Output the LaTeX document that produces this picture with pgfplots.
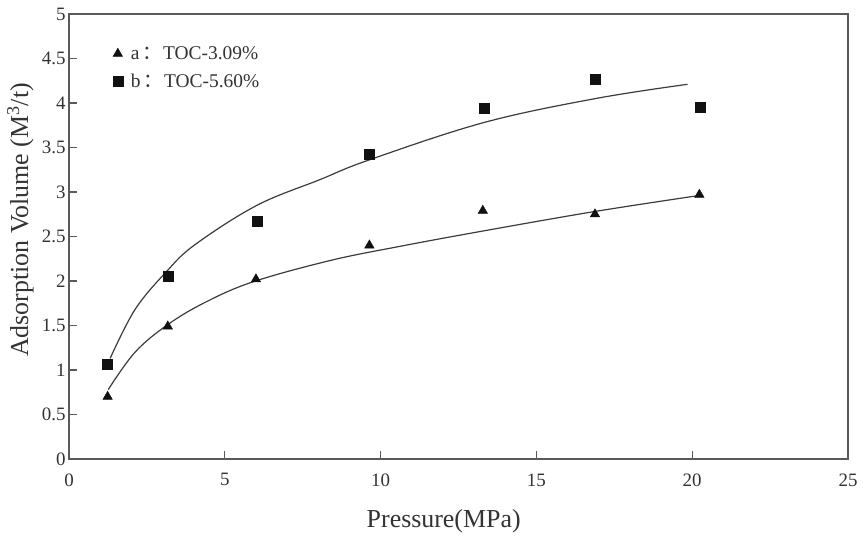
\documentclass[border=0pt]{standalone}
\usepackage{fontspec}
\setmainfont{Liberation Serif}
\newfontfamily\cjk{Noto Sans CJK SC}
\usepackage{pgfplots}
\pgfplotsset{compat=1.18}
\usetikzlibrary{calc}
\definecolor{axgray}{HTML}{5A5A5A}
\definecolor{txtgray}{HTML}{333333}
\definecolor{curvegray}{HTML}{3C3C3C}
\definecolor{markblack}{HTML}{111111}
\begin{document}
\begin{tikzpicture}
\begin{axis}[
  scale only axis,
  width=779bp, height=445bp,
  xmin=0, xmax=25, ymin=0, ymax=5,
  xtick={0,5,10,15,20,25},
  ytick={0,0.5,1,1.5,2,2.5,3,3.5,4,4.5,5},
  xtick pos=bottom, ytick pos=left,
  tick align=inside,
  major tick length=8bp,
  axis line style={axgray, line width=1.3bp},
  every tick/.style={axgray, line width=1.1bp},
  tick label style={font=\fontsize{19}{21}\selectfont, text=txtgray},
  xticklabel style={yshift=-11bp},
  /pgf/number format/assume math mode=true,
  xlabel={Pressure(MPa)},
  ylabel={Adsorption Volume (M\textsuperscript{3}/t)},
  xlabel style={font=\fontsize{26}{28}\selectfont, text=txtgray, at={(axis description cs:0.481,-0.153)}, anchor=base},
  ylabel style={font=\fontsize{26}{28}\selectfont, text=txtgray, at={(axis description cs:-0.0526,0.537)}, anchor=base},
  legend style={draw=none, fill=none, at={(axis description cs:0.056,0.932)}, anchor=north west, inner sep=0pt, font=\fontsize{19.5}{21}\selectfont, text=txtgray, row sep=9bp, column sep=6bp},
  legend cell align=left,
]
\addplot[only marks, mark=triangle*, mark size=5.5bp, markblack] coordinates {
  (1.24,0.70) (3.17,1.49) (6.00,2.02) (9.64,2.40) (13.28,2.79) (16.88,2.75) (20.23,2.97)
};
\addlegendentry{a\,{\cjk ：}\hspace{1bp}TOC-3.09\%}
\addplot[only marks, mark=square*, mark size=5bp, markblack] coordinates {
  (1.24,1.06) (3.19,2.05) (6.03,2.67) (9.63,3.43) (13.31,3.94) (16.90,4.27) (20.25,3.95)
};
\addlegendentry{b\,{\cjk ：}\hspace{1bp}TOC-5.60\%}
\addplot[smooth, tension=0.6, curvegray, line width=1.2bp, forget plot] coordinates {
  (1.26,0.78) (2.12,1.20) (3.17,1.51) (4.37,1.76) (5.90,1.99) (8.38,2.23) (10.63,2.39) (13.26,2.56) (16.86,2.78) (20.21,2.96)
};
\addplot[smooth, tension=0.6, curvegray, line width=1.2bp, forget plot] coordinates {
  (1.32,1.13) (2.12,1.68) (3.14,2.11) (4.05,2.41) (6.03,2.85) (8.06,3.14) (9.63,3.36) (13.31,3.78) (16.90,4.05) (19.85,4.21)
};
\end{axis}
\path (current axis.south west) ++(-69bp,-75bp) rectangle ($(current axis.north east)+(15bp,14bp)$);
\end{tikzpicture}
\end{document}
